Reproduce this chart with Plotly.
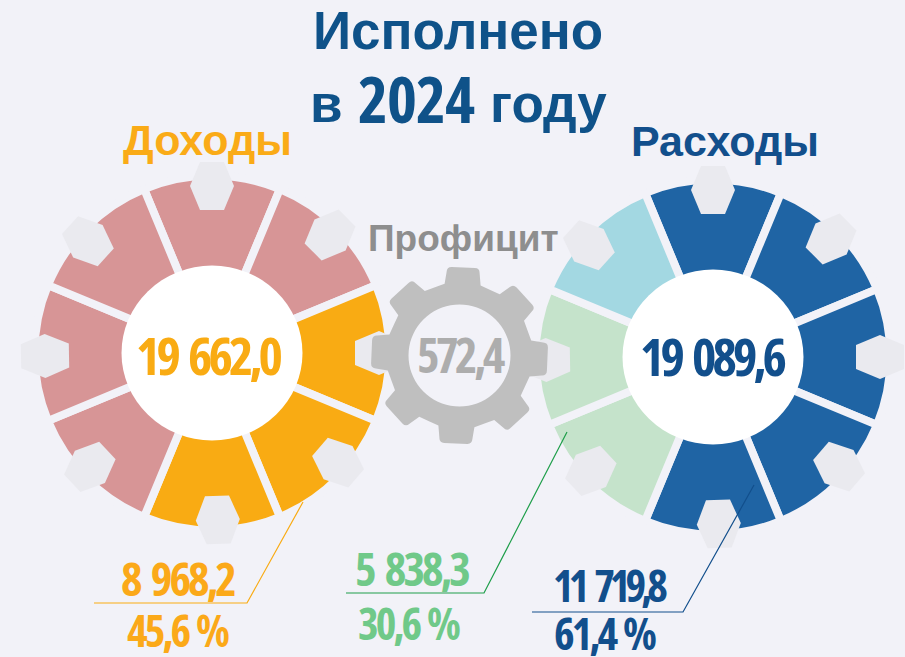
import math
import plotly.graph_objects as go

W, H = 905, 657
BG = "#F2F2F8"
HEX = "#EAEAEF"
GRAY = "#B7B7B7"

# Data
income_slices = [1, 1, 1, 1, 1, 1, 1, 1]
income_colors = ["#D79596", "#D79596", "#F9AB13", "#F9AB13", "#F9AB13", "#D79596", "#D79596", "#D79596"]
expense_slices = [1, 1, 1, 1, 1, 1, 1, 1]
expense_colors = ["#1F64A4", "#1F64A4", "#1F64A4", "#1F64A4", "#1F64A4", "#C5E3CB", "#C5E3CB", "#A3D8E2"]
income_total = "19 662,0"
expense_total = "19 089,6"
surplus = "572,4"
hex_angles = [0, 45, 90, 131, 178, 227, 269, 312]

L = (212, 353)
R = (713, 357)
G = (459.5, 355.5)
PIE_R = 177.5


def pie(center, vals, cols, line_w):
    cx, cy = center
    return go.Pie(
        values=vals, sort=False, direction="clockwise", rotation=-22.5, hole=0.45,
        marker=dict(colors=cols, line=dict(color=BG, width=line_w)),
        textinfo="none", hoverinfo="skip", showlegend=False,
        domain=dict(x=[(cx - PIE_R) / W, (cx + PIE_R) / W],
                    y=[1 - (cy + PIE_R) / H, 1 - (cy - PIE_R) / H]),
    )


def under(cols):
    return [GRAY if c in ("#D79596", "#C5E3CB", "#A3D8E2") else "rgba(0,0,0,0)" for c in cols]


fig = go.Figure()
fig.add_trace(pie(L, income_slices, under(income_colors), 5))
fig.add_trace(pie(L, income_slices, income_colors, 8))
fig.add_trace(pie(R, expense_slices, under(expense_colors), 5))
fig.add_trace(pie(R, expense_slices, expense_colors, 8))
fig.add_trace(go.Scatter(x=[None], y=[None], showlegend=False, hoverinfo="skip"))


def poly(points, close=True):
    s = "M" + " L".join(f"{x:.1f},{y:.1f}" for x, y in points)
    return s + (" Z" if close else "")


def hexagon(c, ang):
    a = math.radians(ang)
    mx, my = c[0] + 167 * math.sin(a), c[1] - 167 * math.cos(a)
    local = [(-12, -24), (12, -24), (22, 0), (12, 24), (-12, 24), (-22, 0)]
    pts = [(mx + u * math.cos(a) - v * math.sin(a), my + u * math.sin(a) + v * math.cos(a)) for u, v in local]
    return dict(type="path", path=poly(pts), fillcolor=HEX, line=dict(width=0), xref="x", yref="y", layer="above")


def gear_path():
    cx, cy = G
    rb, rt = 71, 88
    rot = 2.5
    base, tip = 18, 16.5
    parts = []
    for i in range(8):
        c = math.radians(i * 45 + rot)
        ux, uy = math.sin(c), -math.cos(c)
        vx, vy = math.cos(c), math.sin(c)
        pt = lambda r, off: (cx + ux * r + vx * off, cy + uy * r + vy * off)
        a = pt(rb, -base)
        b = pt(rt - 5, -tip)
        b1 = pt(rt, -tip)
        b2 = pt(rt, -tip + 5)
        d2 = pt(rt, tip - 5)
        d1 = pt(rt, tip)
        d = pt(rt - 5, tip)
        e = pt(rb, base)
        cmd = "M" if i == 0 else "L"
        parts.append(f"{cmd}{a[0]:.1f},{a[1]:.1f} L{b[0]:.1f},{b[1]:.1f} Q{b1[0]:.1f},{b1[1]:.1f} {b2[0]:.1f},{b2[1]:.1f} "
                     f"L{d2[0]:.1f},{d2[1]:.1f} Q{d1[0]:.1f},{d1[1]:.1f} {d[0]:.1f},{d[1]:.1f} L{e[0]:.1f},{e[1]:.1f}")
        n = math.radians((i + 1) * 45 + rot)
        nux, nuy = math.sin(n), -math.cos(n)
        nvx, nvy = math.cos(n), math.sin(n)
        f = (cx + nux * rb - nvx * base, cy + nuy * rb - nvy * base)
        m = math.radians((i + 0.5) * 45 + rot)
        ctrl = (cx + math.sin(m) * (rb + 1.5), cy - math.cos(m) * (rb + 1.5))
        parts.append(f"Q{ctrl[0]:.1f},{ctrl[1]:.1f} {f[0]:.1f},{f[1]:.1f}")
    outer = " ".join(parts) + " Z"
    r = 51
    hole = poly([(cx + r * math.cos(math.radians(t)), cy + r * math.sin(math.radians(t))) for t in range(0, 360, 5)])
    return outer + " " + hole


shapes = []
for c in (L, R):
    for a in hex_angles:
        shapes.append(hexagon(c, a))
shapes.append(dict(type="path", path=gear_path(), fillcolor="#BFBFBF", fillrule="evenodd", line=dict(width=0),
                   xref="x", yref="y", layer="above"))
for c in (L, R):
    shapes.append(dict(type="circle", x0=c[0] - 90.5, x1=c[0] + 90.5, y0=c[1] - 87.5, y1=c[1] + 87.5,
                       fillcolor="white", line=dict(width=0), xref="x", yref="y", layer="above"))

leaders = [
    ([(94, 603), (247, 603), (303, 502)], "#F9AB13"),
    ([(346, 593), (484, 593), (567, 432)], "#1E9E4A"),
    ([(532, 612), (683, 612), (754, 485)], "#124F8C"),
]
for pts, col in leaders:
    shapes.append(dict(type="path", path=poly(pts, False), line=dict(color=col, width=1.2),
                       xref="x", yref="y", layer="above"))

SANS = "Liberation Sans"
COND = "Open Sans"


def label(x, y, text, size, color, family=SANS, style=None, weight="bold"):
    if style is not None:
        text = f'<span style="{style}">{text}</span>'
    return dict(x=x, y=y, text=text, showarrow=False, xref="x", yref="y", xanchor="center", yanchor="middle",
                font=dict(family=family, size=size, color=color, weight=weight))


def num(x, y, text, size, color, spacing, word=6):
    return label(x, y, text, size, color, COND,
                 f"font-stretch:75%;letter-spacing:{spacing}px;word-spacing:{word}px", 700)


TITLE = "#0F5289"
annotations = [
    label(458, 30, "Исполнено", 53, TITLE),
    label(326, 103, "в", 53, TITLE),
    num(416, 98, "2024", 64, TITLE, -1),
    label(548, 103, "году", 53, TITLE),
    label(207, 140, "Доходы", 43, "#FAAB17"),
    label(725, 141, "Расходы", 43, "#124F8C"),
    label(463, 238, "Профицит", 37, "#8E8E8E"),
    num(209, 354, income_total, 52, "#F9AB13", -4),
    num(713, 355, expense_total, 52, "#124F8C", -4),
    num(461, 354, surplus, 48, "#ADADAD", -3.5),
    num(178, 578, "8 968,2", 46, "#FBA919", -3),
    num(178, 630, "45,6 %", 44, "#FBA919", -3, 3),
    num(412, 568, "5 838,3", 46, "#70C989", -3),
    num(409, 623, "30,6 %", 44, "#70C989", -3, 3),
    num(610, 585, "11 719,8", 44, "#124F8C", -5, 7),
    num(605, 633, "61,4 %", 44, "#124F8C", -3, 3),
]

fig.update_layout(
    width=W, height=H, margin=dict(l=0, r=0, t=0, b=0), paper_bgcolor=BG, plot_bgcolor=BG, showlegend=False,
    xaxis=dict(range=[0, W], visible=False, fixedrange=True),
    yaxis=dict(range=[H, 0], visible=False, fixedrange=True),
    shapes=shapes, annotations=annotations,
)
fig.write_html("out.html", config=dict(displayModeBar=False),
               post_script="document.body.style.margin='0';document.body.style.background='#F2F2F8';")
